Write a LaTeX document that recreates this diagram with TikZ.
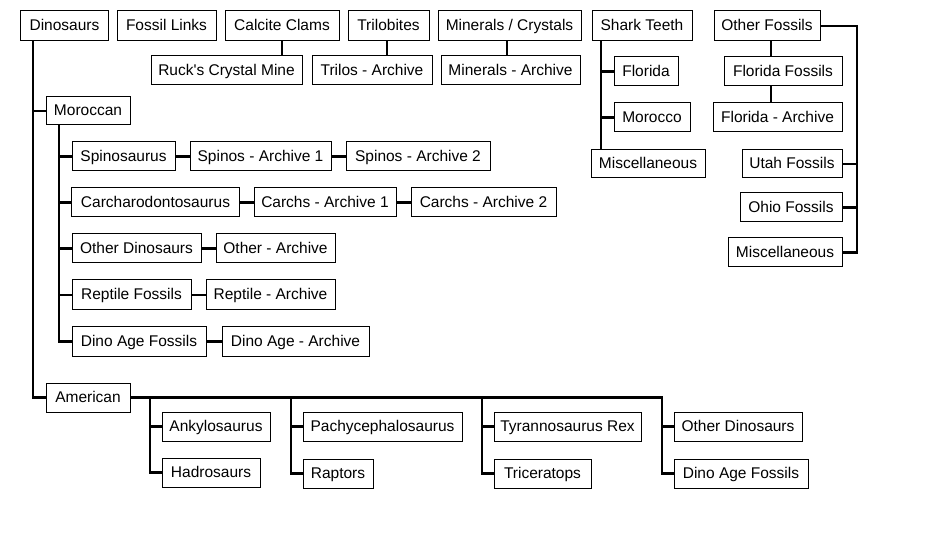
\documentclass[tikz,border=0pt]{standalone}
\usepackage{fontspec}
\newfontfamily\lsans{Liberation Sans}
\tikzset{
  box/.style={draw=black, line width=1bp, fill=white, inner sep=0pt, align=center, text height=11bp, text depth=1.9bp, font=\lsans\fontsize{15.5bp}{18bp}\selectfont},
  conn/.style={draw=black, line width=2.7bp}
}
\newcommand{\bxx}[6]{\node[box,minimum width=#4bp,minimum height=#5bp] (#1) at (#2,#3) {#6};}
\begin{document}
\begin{tikzpicture}[x=1bp,y=-1bp]
\fill[white] (0,0) rectangle (927,542);
\useasboundingbox (0,0) rectangle (927,542);
% connector guide coordinates
\coordinate (dv) at (33,0);
\coordinate (mv) at (59,0);
\coordinate (sv) at (601,0);
\coordinate (ov) at (771,0);
\coordinate (rb) at (857,0);
\coordinate (a1) at (150,0);
\coordinate (a2) at (291,0);
\coordinate (a3) at (482,0);
\coordinate (a4) at (662,0);
% top row
\bxx{dino}{64.5}{26}{87}{30}{Dinosaurs}
\bxx{links}{166.5}{26}{99}{30}{Fossil Links}
\bxx{calc}{282}{26}{114}{30}{Calcite Clams}
\bxx{tril}{388.5}{26}{81}{30}{Trilobites}
\bxx{minc}{509.5}{26}{143}{30}{Minerals / Crystals}
\bxx{shark}{642}{26}{100}{30}{Shark Teeth}
\bxx{other}{767}{26}{106}{30}{Other Fossils}
% second row
\bxx{ruck}{226.5}{70.5}{151}{29}{Ruck's Crystal Mine}
\bxx{trila}{372}{70.5}{120}{29}{Trilos - Archive}
\bxx{mina}{510.5}{70.5}{139}{29}{Minerals - Archive}
% shark teeth
\bxx{sfl}{646}{71.5}{64}{29}{Florida}
\bxx{smo}{652}{117.5}{76}{29}{Morocco}
\bxx{smi}{648}{164}{114}{28}{Miscellaneous}
% other fossils
\bxx{ofl}{783}{71.5}{118}{29}{Florida Fossils}
\bxx{ofa}{777.5}{117.5}{129}{29}{Florida - Archive}
\bxx{out}{792}{164}{100}{28}{Utah Fossils}
\bxx{ooh}{791}{207.5}{102}{29}{Ohio Fossils}
\bxx{omi}{785}{252.5}{114}{29}{Miscellaneous}
% moroccan
\bxx{mor}{88}{111}{84}{28}{Moroccan}
\bxx{spi}{123.5}{156.5}{103}{29}{Spinosaurus}
\bxx{spa}{260.5}{156.5}{141}{29}{Spinos - Archive 1}
\bxx{spb}{418}{156.5}{144}{29}{Spinos - Archive 2}
\bxx{car}{155.5}{202.5}{167}{29}{Carcharodontosaurus}
\bxx{caa}{325}{202.5}{142}{29}{Carchs - Archive 1}
\bxx{cab}{483.5}{202.5}{145}{29}{Carchs - Archive 2}
\bxx{mod}{136.5}{248.5}{129}{29}{Other Dinosaurs}
\bxx{moa}{275.5}{248.5}{119}{29}{Other - Archive}
\bxx{rep}{131.5}{295}{119}{30}{Reptile Fossils}
\bxx{rea}{270.5}{295}{129}{30}{Reptile - Archive}
\bxx{dag}{139}{341.5}{134}{29}{Dino Age Fossils}
\bxx{daa}{295.5}{341.5}{147}{29}{Dino Age - Archive}
% american
\bxx{am}{88}{397.5}{84}{29}{American}
\bxx{ank}{216}{426.5}{108}{29}{Ankylosaurus}
\bxx{had}{211}{472.5}{98}{29}{Hadrosaurs}
\bxx{pac}{382.5}{426.5}{159}{29}{Pachycephalosaurus}
\bxx{rap}{338}{473.5}{70}{29}{Raptors}
\bxx{tyr}{567.5}{426.5}{147}{29}{Tyrannosaurus Rex}
\bxx{tri}{542.5}{473.5}{97}{29}{Triceratops}
\bxx{aod}{738}{426.5}{128}{29}{Other Dinosaurs}
\bxx{adf}{741}{473.5}{134}{29}{Dino Age Fossils}
% top row connectors
\draw[conn] (calc.south) -- (calc.south |- ruck.north);
\draw[conn] (tril.south -| 387,0) -- (trila.north -| 387,0);
\draw[conn] (minc.south -| 507,0) -- (mina.north -| 507,0);
% shark teeth
\draw[conn] (shark.south -| sv) -- (smi.north -| sv);
\draw[conn] (sv |- sfl.west) -- (sfl.west);
\draw[conn] (sv |- smo.west) -- (smo.west);
% other fossils
\draw[conn] (other.south -| ov) -- (ofl.north -| ov);
\draw[conn] (ofl.south -| ov) -- (ofa.north -| ov);
\draw[conn] (other.east) -- (rb |- other.east) -- (rb |- omi.east) -- (omi.east);
\draw[conn] (rb |- out.east) -- (out.east);
\draw[conn] (rb |- ooh.east) -- (ooh.east);
% dinosaurs
\draw[conn] (dino.south -| dv) -- (dv |- am.west) -- (am.west);
\draw[conn] (dv |- mor.west) -- (mor.west);
\draw[conn] (mor.south -| mv) -- (mv |- dag.west) -- (dag.west);
\draw[conn] (mv |- spi.west) -- (spi.west);
\draw[conn] (mv |- car.west) -- (car.west);
\draw[conn] (mv |- mod.west) -- (mod.west);
\draw[conn] (mv |- rep.west) -- (rep.west);
\draw[conn] (spi.east) -- (spa.west);
\draw[conn] (spa.east) -- (spb.west);
\draw[conn] (car.east) -- (caa.west);
\draw[conn] (caa.east) -- (cab.west);
\draw[conn] (mod.east) -- (moa.west);
\draw[conn] (rep.east) -- (rea.west);
\draw[conn] (dag.east) -- (daa.west);
% american
\draw[conn] (am.east) -- (a4 |- am.east) -- (a4 |- adf.west) -- (adf.west);
\draw[conn] (a4 |- aod.west) -- (aod.west);
\draw[conn] (a1 |- am.east) -- (a1 |- had.west) -- (had.west);
\draw[conn] (a1 |- ank.west) -- (ank.west);
\draw[conn] (a2 |- am.east) -- (a2 |- rap.west) -- (rap.west);
\draw[conn] (a2 |- pac.west) -- (pac.west);
\draw[conn] (a3 |- am.east) -- (a3 |- tri.west) -- (tri.west);
\draw[conn] (a3 |- tyr.west) -- (tyr.west);
\end{tikzpicture}
\end{document}
